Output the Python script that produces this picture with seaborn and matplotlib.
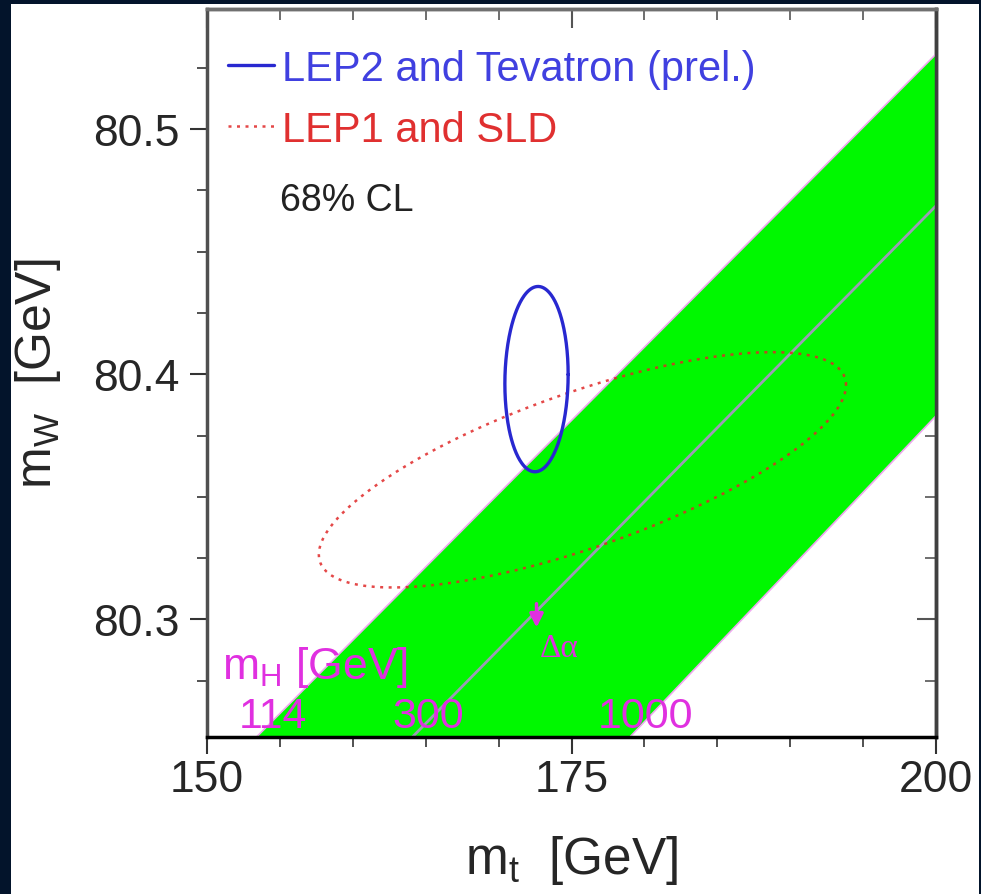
import matplotlib
matplotlib.use("Agg")
import matplotlib.pyplot as plt
from matplotlib.patches import Rectangle
from matplotlib.ticker import MultipleLocator, FormatStrFormatter
import numpy as np
import pandas as pd
import seaborn as sns

# --- data ---
# SM band (mt vs mW) for mH between 114 and 1000 GeV
band_mt = [150, 200]
band_upper = [80.2317, 80.5306]   # mH = 114 GeV edge
band_lower = [80.071, 80.383]     # mH = 1000 GeV edge
sm_line_mw = [80.167, 80.4687]    # mH = 300 GeV line
mh_labels = ["114", "300", "1000"]

# 68% CL contours: centre, widths, correlation
lep2_center = [172.6, 80.398]
lep2_sigma = [2.17, 0.0378]
lep2_rho = 0.05
lep1_center = [175.75, 80.361]
lep1_sigma = [18.08, 0.048]
lep1_rho = 0.72

# delta-alpha uncertainty arrow
da_mt = 172.6
da_mw = [80.3075, 80.2955]

magenta = "#e030e0"
navy = "#03142b"


def contour(center, sigma, rho, n=361):
    t = np.linspace(0, 2 * np.pi, n)
    mt = center[0] + sigma[0] * np.cos(t)
    mw = center[1] + sigma[1] * (rho * np.cos(t) + np.sqrt(1 - rho ** 2) * np.sin(t))
    return pd.DataFrame({"mt": mt, "mw": mw})


sns.set_style("ticks")
plt.rcParams["font.family"] = ["Liberation Sans", "DejaVu Sans"]
plt.rcParams["mathtext.default"] = "regular"

fig = plt.figure(figsize=(9.81, 8.95), dpi=100, facecolor=navy)
fig.patches.append(Rectangle((11 / 981, 0), 968 / 981, 890 / 895, transform=fig.transFigure,
                             facecolor="white", edgecolor="none", zorder=-10))
ax = fig.add_axes([207 / 981, 157 / 895, 729 / 981, 728 / 895])
ax.set_facecolor("white")

# band
ax.fill_between(band_mt, band_lower, band_upper, color="#00f800", lw=0, zorder=1)
ax.plot(band_mt, band_upper, color="#f0a8f0", lw=1.2, zorder=2)
ax.plot(band_mt, band_lower, color="#f0a8f0", lw=1.2, zorder=2)
ax.plot(band_mt, sm_line_mw, color="#9c9cb4", lw=2, zorder=2)

# contours
sns.lineplot(data=contour(lep2_center, lep2_sigma, lep2_rho), x="mt", y="mw", sort=False,
             estimator=None, color="#2828d0", lw=2.4, ax=ax, zorder=4,
             label="LEP2 and Tevatron (prel.)")
sns.lineplot(data=contour(lep1_center, lep1_sigma, lep1_rho), x="mt", y="mw", sort=False,
             estimator=None, color="#e02828", lw=1.8, ax=ax, zorder=3, alpha=0.85,
             label="LEP1 and SLD")
ax.lines[-1].set_linestyle((0, (1.2, 2.2)))

ax.set_xlim(150, 200)
ax.set_ylim(80.252, 80.549)

# legend
leg = ax.legend(loc="upper left", bbox_to_anchor=(0.029, 0.945), frameon=False,
                borderaxespad=0, borderpad=0, handlelength=1.1, handletextpad=0.2,
                labelspacing=0.5, fontsize=30)
for txt, col in zip(leg.get_texts(), ["#4040e0", "#e03030"]):
    txt.set_color(col)

ax.text(0.1, 0.737, "68% CL", transform=ax.transAxes, fontsize=27, color="#222222",
        va="center", ha="left")

# Higgs mass labels
ax.text(0.0206, 0.0975, r"$m_H$ [GeV]", transform=ax.transAxes, fontsize=32,
        color=magenta, va="center", ha="left")
y0 = ax.get_ylim()[0]
for lab, line in zip(mh_labels, [band_upper, sm_line_mw, band_lower]):
    xc = np.interp(y0, line, band_mt)
    ax.text(xc + 1.1, 80.2604, lab, fontsize=31, color=magenta, ha="center", va="center",
            zorder=5)

ax.annotate("", xy=(da_mt, da_mw[1]), xytext=(da_mt, da_mw[0]),
            arrowprops=dict(arrowstyle="-|>", color=magenta, lw=2.5, mutation_scale=20),
            zorder=5)
ax.text(da_mt + 0.2, 80.2886, "Δα", family="Liberation Serif", fontsize=24,
        color=magenta, va="center", ha="left", zorder=5)

# axes styling
ax.xaxis.set_major_locator(MultipleLocator(25))
ax.xaxis.set_minor_locator(MultipleLocator(5))
ax.yaxis.set_major_locator(MultipleLocator(0.1))
ax.yaxis.set_minor_locator(MultipleLocator(0.025))
ax.yaxis.set_major_formatter(FormatStrFormatter("%.1f"))
ax.tick_params(which="major", direction="out", length=12, width=1.5, labelsize=32,
               color="#333333", pad=4)
ax.tick_params(axis="y", which="major", pad=8)
ax.tick_params(which="minor", direction="out", length=7, width=1.2, color="#333333")

secx = ax.secondary_xaxis("top")
secx.xaxis.set_major_locator(MultipleLocator(25))
secx.xaxis.set_minor_locator(MultipleLocator(5))
secx.tick_params(which="major", direction="in", length=14, width=1.5, labeltop=False,
                 color="#555555")
secx.tick_params(which="minor", direction="in", length=8, width=1.2, color="#555555")
secy = ax.secondary_yaxis("right")
secy.yaxis.set_major_locator(MultipleLocator(0.1))
secy.yaxis.set_minor_locator(MultipleLocator(0.025))
secy.tick_params(which="major", direction="in", length=14, width=1.5, labelright=False,
                 color="#555555")
secy.tick_params(which="minor", direction="in", length=8, width=1.2, color="#555555")

for side, col in [("left", "#505050"), ("bottom", "black"), ("top", "#707070"), ("right", "#404040")]:
    ax.spines[side].set_visible(True)
    ax.spines[side].set_color(col)
    ax.spines[side].set_linewidth(2.5)
secx.spines["top"].set_color("#707070")
secx.spines["top"].set_linewidth(2.5)
secy.spines["right"].set_color("#404040")
secy.spines["right"].set_linewidth(2.5)

ax.set_xlabel(r"$m_t$  [GeV]", fontsize=37)
ax.set_ylabel(r"$m_W$  [GeV]", fontsize=36)
ax.xaxis.set_label_coords(0.5, -0.132)
ax.yaxis.set_label_coords(-0.197, 0.5)

fig.savefig("out.png", dpi=100, facecolor=navy)
